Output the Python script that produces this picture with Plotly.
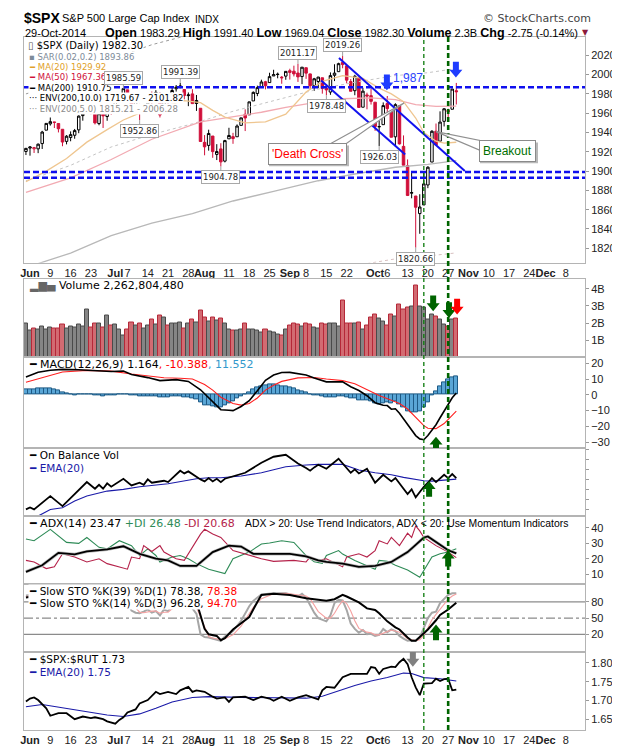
import plotly.graph_objects as go
from plotly.subplots import make_subplots

# trading-day index: -1 = 30 May 2014, 0 = 2 Jun 2014, 105 = 29 Oct 2014
day = list(range(-1, 106))

opens = [
    1920.33,
    1923.87, 1923.07, 1923.06, 1928.52, 1942.41,   # Jun 2-6
    1948.97, 1950.34, 1949.37, 1943.35, 1930.80,   # Jun 9-13
    1934.84, 1937.15, 1942.73, 1957.50, 1960.45,   # Jun 16-20
    1962.92, 1961.97, 1949.27, 1959.89, 1956.56,   # Jun 23-27
    1960.79, 1962.29, 1973.06, 1975.88,            # Jun 30 - Jul 3
    1984.22, 1976.39, 1965.10, 1966.67, 1965.76,   # Jul 7-11
    1969.86, 1977.36, 1976.35, 1979.75, 1961.54,   # Jul 14-18
    1976.93, 1975.65, 1985.32, 1988.07, 1984.60,   # Jul 21-25
    1978.25, 1980.03, 1973.21, 1965.14, 1929.80,   # Jul 28 - Aug 1
    1926.62, 1936.34, 1917.29, 1923.03, 1910.35,   # Aug 4-8
    1933.43, 1935.73, 1935.60, 1947.41, 1958.87,   # Aug 11-15
    1958.36, 1972.73, 1980.46, 1986.82, 1992.60,   # Aug 18-22
    1991.74, 1998.59, 2000.54, 1997.42, 1998.45,   # Aug 25-29
    2004.07, 2003.57, 2001.67, 1998.00,            # Sep 2-5
    2007.17, 2000.73, 1988.41, 1992.85, 1996.74,   # Sep 8-12
    1986.04, 1981.93, 1999.30, 2003.07, 2012.74,   # Sep 15-19
    2009.08, 1992.78, 1983.34, 1997.32, 1966.22,   # Sep 22-26
    1978.96, 1978.21, 1971.44, 1945.83, 1948.12,   # Sep 29 - Oct 3
    1970.01, 1962.36, 1935.55, 1967.68, 1925.63,   # Oct 6-10
    1905.65, 1877.11, 1874.18, 1855.95, 1864.91,   # Oct 13-17
    1885.62, 1909.38, 1941.29, 1931.02, 1951.59,   # Oct 20-24
    1962.97, 1964.14, 1983.29,                     # Oct 27-29
]
highs = [
    1924.03,
    1925.88, 1925.07, 1928.63, 1941.74, 1949.44,
    1955.55, 1950.86, 1949.37, 1943.35, 1937.30,
    1941.15, 1943.69, 1957.74, 1959.87, 1963.91,
    1963.74, 1968.17, 1960.83, 1959.89, 1961.47,
    1964.24, 1978.58, 1976.67, 1985.59,
    1984.22, 1976.39, 1974.15, 1969.84, 1968.67,
    1979.85, 1982.52, 1983.94, 1981.80, 1979.91,
    1976.93, 1986.24, 1989.23, 1991.39, 1984.60,
    1981.52, 1984.85, 1978.90, 1965.14, 1937.35,
    1942.92, 1936.34, 1927.91, 1928.89, 1932.38,
    1944.90, 1939.65, 1948.41, 1955.23, 1964.04,
    1971.99, 1982.57, 1988.57, 1994.76, 1993.54,
    2001.95, 2005.04, 2002.14, 1998.55, 2003.38,
    2006.12, 2009.28, 2011.17, 2007.71,
    2007.17, 2001.01, 1996.66, 1997.65, 1996.74,
    1987.18, 2002.28, 2010.74, 2012.34, 2019.26,
    2009.08, 1995.41, 1999.79, 1997.32, 1986.37,
    1981.28, 1985.17, 1971.44, 1952.32, 1971.19,
    1977.84, 1962.36, 1970.36, 1967.68, 1936.98,
    1912.09, 1898.71, 1874.18, 1876.01, 1898.16,
    1905.03, 1942.45, 1949.31, 1961.95, 1965.27,
    1964.64, 1985.05, 1991.40,
]
lows = [
    1916.64,
    1915.98, 1918.79, 1918.60, 1922.93, 1942.41,
    1947.16, 1944.64, 1940.08, 1925.78, 1927.69,
    1930.91, 1933.55, 1939.29, 1952.26, 1959.17,
    1958.89, 1948.34, 1947.49, 1944.69, 1952.18,
    1958.22, 1962.29, 1972.58, 1975.88,
    1974.88, 1959.46, 1965.10, 1952.86, 1959.63,
    1969.86, 1965.34, 1975.67, 1955.59, 1960.82,
    1965.77, 1975.65, 1982.44, 1985.79, 1974.37,
    1967.31, 1969.95, 1962.42, 1930.67, 1916.37,
    1921.20, 1913.77, 1911.45, 1904.78, 1909.01,
    1933.43, 1928.29, 1935.60, 1947.41, 1941.50,
    1958.36, 1972.73, 1977.68, 1986.82, 1984.76,
    1991.74, 1998.59, 1996.20, 1990.52, 1994.65,
    1994.85, 1998.14, 1992.44, 1990.10,
    1995.60, 1984.61, 1982.99, 1985.93, 1980.26,
    1978.48, 1979.06, 1993.29, 2003.07, 2006.59,
    1991.01, 1982.77, 1978.63, 1965.99, 1966.22,
    1964.04, 1968.96, 1941.72, 1926.03, 1948.12,
    1958.43, 1934.87, 1925.25, 1927.56, 1906.05,
    1874.14, 1871.79, 1820.66, 1835.02, 1864.91,
    1882.30, 1909.38, 1926.83, 1931.02, 1946.27,
    1951.37, 1964.14, 1969.04,
]
closes = [
    1923.57,
    1924.97, 1924.24, 1927.88, 1940.46, 1949.44,
    1951.27, 1950.79, 1943.89, 1930.11, 1936.16,
    1937.78, 1941.99, 1956.98, 1959.48, 1962.87,
    1962.61, 1949.98, 1959.53, 1957.22, 1960.96,
    1960.23, 1973.32, 1974.62, 1985.44,
    1977.65, 1963.71, 1972.83, 1964.68, 1967.57,
    1977.10, 1973.28, 1981.57, 1958.12, 1978.22,
    1973.63, 1983.53, 1987.01, 1987.98, 1978.34,
    1978.91, 1969.95, 1970.07, 1930.67, 1925.15,
    1938.99, 1920.21, 1920.24, 1909.57, 1931.59,
    1936.92, 1933.75, 1946.72, 1955.18, 1955.06,
    1971.74, 1981.60, 1986.51, 1992.37, 1988.40,
    1997.92, 2000.02, 2000.12, 1996.74, 2003.37,
    2002.28, 2000.72, 1997.65, 2007.71,
    2001.54, 1988.44, 1995.69, 1997.45, 1985.54,
    1984.13, 1998.98, 2001.57, 2011.36, 2010.40,
    1994.29, 1982.77, 1998.30, 1965.99, 1982.85,
    1977.80, 1972.29, 1946.16, 1946.17, 1967.90,
    1964.82, 1935.10, 1968.89, 1928.21, 1906.13,
    1874.74, 1877.70, 1862.49, 1862.76, 1886.76,
    1904.01, 1941.28, 1927.11, 1950.82, 1964.58,
    1961.63, 1985.05, 1982.30,
]
# volume, billions of shares
volume_b = [
    1.95,
    1.55, 1.70, 1.65, 1.80, 1.65,
    1.75, 1.70, 1.70, 1.92, 1.70,
    1.78, 1.72, 1.90, 1.80, 2.80,
    1.72, 1.98, 1.98, 1.76, 2.45,
    1.88, 1.90, 1.65, 1.25,
    1.65, 2.05, 1.85, 1.95, 1.70,
    1.85, 2.20, 1.90, 2.45, 2.35,
    1.85, 1.95, 2.00, 2.05, 1.70,
    1.95, 2.20, 2.05, 2.75, 2.35,
    2.10, 2.30, 2.15, 2.25, 2.00,
    1.65, 1.55, 1.55, 1.65, 1.98,
    1.65, 1.60, 1.55, 1.45, 1.65,
    1.50, 1.45, 1.35, 1.25, 1.60,
    1.85, 1.95, 1.90, 1.80,
    1.95, 1.92, 1.73, 1.67, 2.00,
    1.90, 1.95, 1.95, 1.80, 3.30,
    2.00, 2.00, 2.00, 2.05, 1.65,
    1.85, 2.35, 2.50, 2.25, 2.10,
    1.85, 2.50, 2.40, 3.08, 2.80,
    2.90, 2.95, 4.20, 2.95, 2.90,
    2.20, 2.50, 2.40, 2.20, 1.90,
    1.80, 2.20, 2.26,
]
macd_hist = [
    3.4,
    3.5, 3.6, 3.8, 4.1, 4.3,
    4.2, 3.7, 2.8, 1.6, 0.8,
    0.3, -0.1, 0.0, 0.3, 0.5,
    0.2, -0.6, -0.6, -0.7, -0.5,
    -0.4, -0.2, 0.1, 0.5,
    0.3, -0.3, -0.6, -1.0, -1.1,
    -0.9, -1.0, -1.2, -1.9, -1.5,
    -1.6, -1.2, -0.9, -0.8, -1.3,
    -1.6, -2.2, -2.7, -4.6, -6.4,
    -6.9, -7.6, -7.8, -7.9, -6.6,
    -5.3, -4.1, -2.4, -0.9, 0.3,
    1.8, 3.2, 4.6, 5.6, 6.2,
    6.6, 6.5, 6.2, 5.6, 5.2,
    4.6, 3.8, 2.8, 2.4,
    1.6, 0.4, -0.3, -0.5, -1.2,
    -1.8, -1.7, -1.4, -0.9, -0.8,
    -1.6, -2.5, -2.2, -3.6, -3.4,
    -3.6, -4.0, -5.5, -6.1, -5.1,
    -4.7, -5.6, -4.3, -6.2, -8.1,
    -10.4, -10.8, -11.3, -10.6, -8.0,
    -4.5, -0.5, 2.5, 5.5, 8.0,
    9.8, 11.3, 11.552,
]

# ---- indicator lines at selected days (day, value)
ma20_x = [-1, 4, 9, 14, 19, 23, 28, 33, 38, 42, 45, 48, 53, 58, 63, 68, 72, 77, 82, 86, 89, 92, 95, 97, 100, 102, 105]
ma20 = [1889, 1900, 1913, 1930, 1943, 1953, 1962, 1967, 1973, 1971, 1963, 1956, 1950, 1951, 1959, 1982, 1993, 1999,
        1996, 1986, 1980, 1972, 1955, 1940, 1931, 1929, 1929.92]
ma50_x = [-1, 10, 20, 30, 42, 50, 57, 63, 70, 77, 84, 90, 95, 100, 105]
ma50 = [1878, 1893, 1912, 1933, 1951, 1956, 1961, 1966, 1971, 1975, 1976, 1974, 1969, 1967, 1967.36]
ma200_x = [-1, 2, 10, 20, 30, 40, 50, 60, 71, 80, 90, 98, 105]
ma200 = [1800, 1804, 1815, 1833, 1846, 1856, 1869, 1879, 1890, 1897, 1904, 1907, 1910.75]
env5_up = [1890, 1894, 1906, 1925, 1938, 1949, 1962, 1973, 1985, 1992, 1999, 2002, 2006.28]
env10_up = [1980, 1984, 1997, 2016, 2031, 2042, 2056, 2067, 2079, 2087, 2094, 2098, 2101.82]
env5_lo = [1710, 1714, 1724, 1741, 1754, 1763, 1776, 1785, 1796, 1802, 1809, 1812, 1815.21]

macd_x = [-1, 2, 5, 8, 12, 16, 20, 23, 25, 29, 32, 36, 39, 42, 44, 46, 47, 49, 50, 52, 54, 56, 58, 60, 62, 64, 66,
          68, 70, 73, 75, 77, 79, 81, 83, 85, 87, 88, 89, 90, 91, 92, 93, 94, 95, 96, 97, 98, 99, 100, 101, 102,
          103, 104, 105]
macd = [11.3, 14.3, 15.6, 16.1, 15.9, 15.2, 14.8, 15.0, 12.9, 10.9, 9.0, 9.6, 8.5, 3.2, -1.9, -6.8, -9.4, -9.8,
        -10.0, -7.4, -3.7, 2.6, 9.2, 12.5, 14.1, 14.2, 13.5, 12.6, 10.7, 8.2, 8.2, 8.2, 5.1, 2.7, -0.6, -5.0,
        -6.6, -6.8, -9.1, -8.8, -11.7, -15.3, -19.4, -22.5, -25.8, -27.9, -28.4, -25.7, -22.2, -18.9, -14.5,
        -10.2, -6.2, -1.9, 1.164]
signal_x = [-1, 3, 8, 14, 20, 25, 29, 33, 37, 40, 43, 45, 47, 50, 52, 54, 56, 58, 60, 62, 66, 70, 73, 77, 80, 83,
            86, 89, 91, 93, 95, 97, 98, 100, 102, 104, 105]
signal = [7.9, 10.9, 14.4, 15.5, 15.0, 13.2, 11.8, 10.8, 10.5, 10.0, 6.5, 3.0, -1.5, -5.5, -6.5, -5.5, -2.0, 3.0,
          6.0, 8.5, 10.7, 11.0, 10.0, 9.0, 7.0, 3.0, -0.5, -3.5, -5.5, -9.0, -14.5, -19.5, -21.2, -21.4, -18.2,
          -13.2, -10.388]

# on balance volume (relative units, no scale printed on the chart)
obv_x = [-1, 0, 1, 5, 8, 14, 16, 17, 18, 19, 20, 23, 25, 27, 28, 29, 30, 33, 34, 37, 38, 39, 42, 43, 44, 45, 46,
         47, 48, 51, 53, 57, 60, 63, 66, 68, 69, 70, 71, 73, 76, 79, 80, 81, 83, 85, 87, 89, 90, 93, 94, 95, 96,
         97, 98, 99, 100, 101, 102, 103, 104, 105]
obv = [10, 13, 10, 30, 15, 51, 41, 47, 41, 49, 44, 56, 46, 50, 47, 55, 50, 53, 51, 68, 64, 67, 55, 52, 57, 52, 56,
       51, 56, 62, 65, 80, 89, 92, 79, 72, 68, 73, 77, 71, 86, 65, 70, 64, 71, 50, 62, 52, 57, 33, 40, 28, 36, 44,
       50, 57, 51, 57, 62, 57, 63, 57]
obv_ema_x = [-1, 2, 5, 8, 11, 14, 19, 23, 27, 34, 41, 44, 47, 52, 57, 63, 68, 71, 77, 81, 85, 89, 92, 95, 97, 99,
             101, 103, 105]
obv_ema = [-4, 0, 10, 12.5, 22.5, 30, 37.5, 40, 44, 48.5, 56, 57.5, 57.5, 60, 65, 74, 76.5, 77.5, 77.5, 69, 65,
           62, 58, 55, 53, 52.5, 53.5, 54.5, 55.5]

adx_x = [-1, 1, 3, 7, 11, 14, 19, 23, 27, 31, 34, 37, 41, 45, 49, 52, 55, 60, 64, 68, 71, 73, 77, 81, 85, 89, 93,
         95, 97, 98, 100, 103, 105]
adx = [11.5, 13.6, 15.7, 23.8, 22.8, 24.7, 26.0, 28.1, 23.2, 20.0, 18.9, 15.3, 15.3, 24.3, 28.5, 27.9, 23.2, 23.2,
       23.2, 21.5, 18.9, 17.9, 16.8, 14.7, 15.3, 17.9, 24.3, 29.0, 33.8, 34.5, 31.0, 25.5, 23.47]
pdi_x = [-1, 1, 5, 9, 12, 14, 17, 19, 22, 25, 27, 29, 31, 32, 35, 37, 39, 41, 44, 46, 48, 50, 54, 57, 59, 62, 65,
         68, 70, 72, 73, 76, 77, 80, 82, 85, 86, 88, 90, 93, 96, 97, 99, 101, 103, 105]
pdi = [32.8, 31.7, 39.1, 30.6, 30.0, 33.8, 27.4, 26.4, 31.7, 28.5, 22.1, 26.4, 22.1, 17.9, 21.1, 22.1, 20.0, 16.8,
       13.2, 11.9, 10.4, 20.0, 24.3, 29.6, 30.2, 31.7, 30.6, 22.0, 18.0, 17.0, 22.1, 25.3, 23.0, 18.9, 16.8, 13.2,
       18.9, 18.3, 15.7, 12.6, 7.9, 12.6, 21.1, 23.2, 24.3, 26.48]
mdi_x = [-1, 1, 4, 6, 8, 11, 14, 17, 19, 22, 24, 25, 27, 28, 30, 32, 33, 36, 38, 42, 43, 45, 47, 50, 54, 57, 60,
         65, 68, 69, 71, 73, 77, 78, 81, 83, 85, 86, 88, 89, 91, 92, 93, 94, 95, 96, 97, 100, 103, 105]
mdi = [18.9, 17.9, 13.6, 14.7, 23.2, 21.1, 17.9, 20.0, 16.8, 14.7, 13.2, 21.1, 20.0, 28.5, 24.7, 28.5, 24.3, 20.0,
       18.9, 36.0, 39.1, 36.0, 33.8, 25.3, 22.1, 20.0, 18.3, 18.9, 17.9, 21.1, 18.9, 20.0, 14.7, 21.1, 23.2, 21.1,
       25.3, 31.7, 29.6, 33.8, 28.5, 32.8, 36.6, 33.8, 41.3, 38.1, 33.8, 28.5, 24.3, 20.68]

k39_x = [-1, 5, 10, 15, 20, 24, 28, 32, 37, 39, 41, 42, 43, 44, 45, 46, 47, 48, 50, 52, 54, 56, 57, 60, 64, 68, 71,
         73, 75, 77, 78, 80, 81, 83, 85, 86, 88, 90, 91, 93, 94, 95, 96, 98, 100, 101, 103, 105]
k39 = [88, 95, 85, 92, 90, 94, 88, 86, 95, 90, 80, 55, 30, 20, 18, 17, 9, 13, 29, 40, 52, 80, 92.7, 95, 93, 87, 84,
       82, 85, 93, 90, 82, 79, 68, 65, 59, 44, 33, 29, 14, 8, 8, 15, 29, 46, 56, 66, 78.38]
k14_x = [-1, 3, 6, 8, 9, 10, 11, 12, 14, 17, 20, 23, 25, 26, 27, 28, 29, 30, 31, 32, 33, 34, 35, 36, 37, 39, 41, 42,
         43, 44, 45, 47, 48, 50, 52, 54, 55, 57, 60, 63, 66, 67, 68, 69, 70, 71, 73, 74, 75, 76, 77, 78, 79, 80, 81,
         82, 83, 84, 85, 86, 87, 88, 89, 90, 91, 92, 93, 94, 95, 96, 97, 98, 99, 100, 101, 102, 103, 104, 105]
k14 = [92, 94, 90, 74, 68, 67, 71, 88, 96, 88, 90, 97, 64, 60, 59, 62, 66, 60, 63, 55, 66, 63, 72, 80, 88, 78, 58,
       20, 15, 14, 12, 8, 16, 26, 45, 72, 82, 94, 96, 96, 90, 95, 88, 75, 60, 50, 44, 55, 78, 84, 83, 65, 40, 30, 23,
       28, 20, 21, 17, 19, 30, 24, 29, 26, 17, 12, 8, 9, 8, 14, 32, 50, 60, 62, 78, 85, 93, 96, 96.28]
d3 = [90, 93, 92, 82, 74, 70, 69, 75, 90, 90, 90, 94, 78, 68, 61, 60, 62, 63, 63, 59, 61, 61, 67, 72, 80, 83, 70,
      52, 31, 16, 13, 10, 12, 19, 35, 58, 70, 86, 95, 96, 93, 93, 91, 86, 74, 62, 50, 50, 59, 72, 82, 77, 63, 45, 31,
      27, 24, 23, 19, 19, 22, 24, 28, 26, 24, 18, 12, 10, 8, 10, 18, 32, 47, 57, 67, 75, 85, 91, 94.70]

rut_x = [-1, 0, 1, 2, 4, 5, 7, 9, 11, 13, 15, 16, 18, 19, 21, 22, 23, 24, 26, 27, 29, 31, 32, 34, 36, 37, 39, 40,
         41, 43, 45, 46, 48, 49, 50, 53, 55, 57, 59, 60, 62, 64, 66, 68, 69, 71, 72, 73, 75, 77, 79, 82, 83, 84, 85,
         86, 87, 89, 90, 91, 92, 93, 94, 95, 96, 97, 99, 100, 101, 102, 103, 104, 105]
rut = [1.697, 1.705, 1.708, 1.701, 1.679, 1.659, 1.666, 1.666, 1.650, 1.657, 1.653, 1.655, 1.650, 1.644, 1.638,
       1.648, 1.655, 1.668, 1.676, 1.692, 1.701, 1.723, 1.717, 1.723, 1.717, 1.727, 1.736, 1.723, 1.727, 1.723,
       1.710, 1.705, 1.708, 1.696, 1.708, 1.710, 1.701, 1.710, 1.705, 1.699, 1.710, 1.699, 1.708, 1.714, 1.710,
       1.703, 1.727, 1.736, 1.734, 1.762, 1.771, 1.771, 1.771, 1.789, 1.787, 1.771, 1.784, 1.790, 1.789, 1.802,
       1.811, 1.797, 1.762, 1.735, 1.714, 1.745, 1.746, 1.758, 1.752, 1.757, 1.758, 1.727, 1.729]
rut_ema_x = [-1, 3, 11, 19, 23, 27, 31, 35, 40, 44, 52, 60, 68, 72, 76, 80, 84, 88, 92, 94, 97, 101, 105]
rut_ema = [1.683, 1.689, 1.675, 1.661, 1.657, 1.664, 1.679, 1.696, 1.708, 1.710, 1.708, 1.708, 1.706, 1.711, 1.726,
           1.740, 1.752, 1.761, 1.773, 1.772, 1.761, 1.758, 1.752]

# ---- x axis labels
tick_days = [0, 5, 10, 15, 21, 24, 29, 34, 39, 43, 49, 54, 59, 64, 68, 73, 78, 85, 88, 93, 98, 103, 108, 113, 118,
             123, 127, 132]
tick_text = ['<b>Jun</b>', '9', '16', '23', '<b>Jul</b>', '7', '14', '21', '28', '<b>Aug</b>', '11', '18', '25',
             '<b>Sep</b>', '8', '15', '22', '<b>Oct</b>', '6', '13', '20', '27', '<b>Nov</b>', '10', '17', '24',
             '<b>Dec</b>', '8']

# ---- chart annotations (analyst drawings)
peak_labels = [(23, 1985.59, 'hi'), (37, 1991.39, 'hi'), (27, 1952.86, 'lo'), (47, 1904.78, 'lo'),
               (66, 2011.17, 'hi'), (77, 2019.26, 'hi'), (73, 1978.48, 'lo'), (86, 1926.03, 'lo'),
               (95, 1820.66, 'lo')]
levels = [1987, 1899, 1893]
trend_upper = [(76.1, 2017.3), (107.1, 1900.0)]
trend_lower = [(71.7, 1993.9), (92.4, 1917.3)]
signal_lines = [97.0, 103.0]
arrows = [(1, 87.9, 1983.7, 'down', '#1f3cff'), (1, 104.9, 1997.0, 'down', '#1f3cff'),
          (2, 99.3, 2.69, 'down', '#006400'), (2, 103.2, 2.30, 'down', '#006400'),
          (2, 105.2, 2.50, 'down', '#ff0000'), (3, 100.0, -26.5, 'up', '#006400'),
          (4, 98.3, 52.5, 'up', '#006400'), (5, 103.0, 25.2, 'up', '#006400'),
          (6, 100.0, 38.0, 'up', '#006400'), (7, 94.3, 1.79, 'down', '#808080')]

# ---- page geometry
W, H = 620, 750
ML, MR, MT, MB = 16, 43, 29, 18
PW, PH = W - ML - MR, H - MT - MB
PANELS = [(29, 258), (274, 354), (354, 446), (446, 515), (515, 584), (584, 653), (653, 732)]
Y_RANGES = [(1805, 2039), (0, 4.6), (-33.7, 23.7), (0, 102), (3.5, 47.7), (-13, 113), (1.621, 1.829)]
X_RANGE = [-1.48, 136.7]
XPX = PW / (X_RANGE[1] - X_RANGE[0])
LEG = 'DejaVu Sans'
AXF = 'Liberation Sans'


def py2paper(py):
    return (H - MB - py) / PH


def px2paper(px):
    return (px - ML) / PW


def ppu(row):
    t, b = PANELS[row - 1]
    lo, hi = Y_RANGES[row - 1]
    return (b - t) / (hi - lo)


def xd(px):
    return X_RANGE[0] + (px - ML) / XPX


def yd(py, row=1):
    return Y_RANGES[row - 1][1] - (py - PANELS[row - 1][0]) / ppu(row)


def refs(row):
    return ('x', 'y') if row == 1 else (f'x{row}', f'y{row}')


fig = make_subplots(rows=7, cols=1, shared_xaxes=True, vertical_spacing=0)


def line(x, y, row, color, width=1.0, dash=None):
    fig.add_trace(go.Scatter(x=x, y=y, mode='lines', hoverinfo='skip',
                             line=dict(color=color, width=width, dash=dash)), row=row, col=1)


# price overlays first so that the candles sit on top
line(ma200_x, env10_up, 1, '#9a9a9a', 1, 'dot')
line(ma200_x, env5_up, 1, '#c4c4c4', 1, 'dot')
line(ma200_x, env5_lo, 1, '#d8c0c0', 1, 'dot')
line(ma200_x, ma200, 1, '#b8b8b8', 1.3)
line(ma50_x, ma50, 1, '#f2aab2', 1.3)
line(ma20_x, ma20, 1, '#efc690', 1.3)

# price candles: outline black when close >= previous close, red otherwise; hollow when close > open
up = [True] + [closes[k] >= closes[k - 1] for k in range(1, len(closes))]
for want, col in [(True, '#000000'), (False, '#d0103a')]:
    idx = [k for k in range(len(day)) if up[k] == want]
    fig.add_trace(go.Candlestick(
        x=[day[k] for k in idx], open=[opens[k] for k in idx], high=[highs[k] for k in idx],
        low=[lows[k] for k in idx], close=[closes[k] for k in idx],
        increasing=dict(line=dict(color=col, width=1), fillcolor='white'),
        decreasing=dict(line=dict(color=col, width=1), fillcolor=col),
        whiskerwidth=0, hoverinfo='skip'), row=1, col=1)

# volume
fig.add_trace(go.Bar(x=day, y=volume_b, width=1.0, hoverinfo='skip',
                     marker=dict(color=['#858585' if u else '#d26b72' for u in up],
                                 line=dict(color=['#4a4a4a' if u else '#b52838' for u in up], width=1))),
              row=2, col=1)

# MACD
fig.add_trace(go.Bar(x=day, y=macd_hist, width=1.0, hoverinfo='skip',
                     marker=dict(color='#5aa6d6', line=dict(color='#1d5a86', width=1))), row=3, col=1)
line(signal_x, signal, 3, '#ff2020', 1.1)
line(macd_x, macd, 3, '#000000', 1.6)

# OBV
line(obv_ema_x, obv_ema, 4, '#1a1aa8', 1.1)
line(obv_x, obv, 4, '#000000', 1.8)

# ADX
line(pdi_x, pdi, 5, '#2e8b57', 1.1)
line(mdi_x, mdi, 5, '#b5224a', 1.1)
line(adx_x, adx, 5, '#bdbdbd', 3.2)
line(adx_x, adx, 5, '#000000', 1.8)

# Slow stochastics
line(k14_x, k14, 6, '#a6a6a6', 2.0)
line(k14_x, d3, 6, '#f5a0a0', 1.1)
line(k39_x, k39, 6, '#000000', 2.0)

# SPX:RUT
line(rut_ema_x, rut_ema, 7, '#1a1aa8', 1.1)
line(rut_x, rut, 7, '#000000', 1.8)

# ---- axes
frame = dict(showline=True, linecolor='#b4b4b4', linewidth=1, mirror=True, showgrid=False, zeroline=False)
for r in range(1, 8):
    fig.update_xaxes(frame, range=X_RANGE, tickvals=tick_days, ticktext=tick_text, ticks='', tickangle=0,
                     tickfont=dict(family=AXF, size=11, color='#222'), rangeslider_visible=False,
                     showticklabels=(r in (1, 7)), row=r, col=1)
    fig.update_yaxes(frame, side='right', range=list(Y_RANGES[r - 1]), ticks='outside', ticklen=3,
                     tickcolor='#999', tickfont=dict(family=AXF, size=11, color='#222'), row=r, col=1)

fig.update_yaxes(tickvals=[1820, 1840, 1860, 1880, 1900, 1920, 1940, 1960, 1980, 2000, 2020], row=1, col=1)
fig.update_yaxes(tickvals=[1, 2, 3, 4], ticktext=['1B', '2B', '3B', '4B'], row=2, col=1)
fig.update_yaxes(tickvals=[-30, -20, -10, 0, 10, 20], row=3, col=1)
fig.update_yaxes(tickvals=[10, 25, 40, 55, 70, 85, 100], showticklabels=False, row=4, col=1)
fig.update_yaxes(tickvals=[10, 20, 30, 40], row=5, col=1)
fig.update_yaxes(tickvals=[20, 50, 80], row=6, col=1)
fig.update_yaxes(tickvals=[1.65, 1.70, 1.75, 1.80], tickformat='.2f', row=7, col=1)

lay = {}
for r in range(1, 8):
    t, b = PANELS[r - 1]
    lay['yaxis' if r == 1 else f'yaxis{r}'] = dict(domain=[py2paper(b), py2paper(t)])
fig.update_layout(**lay)

# ---- shapes
shapes = []
for lv in levels:
    shapes.append(dict(type='line', xref='x', yref='y', x0=X_RANGE[0], x1=X_RANGE[1], y0=lv, y1=lv,
                       line=dict(color='#1010ee', width=2.5, dash='6px,3px'), layer='above'))
for seg in (trend_upper, trend_lower):
    shapes.append(dict(type='line', xref='x', yref='y', x0=seg[0][0], y0=seg[0][1], x1=seg[1][0], y1=seg[1][1],
                       line=dict(color='#1212ee', width=2), layer='above'))
for k, xv in enumerate(signal_lines):
    shapes.append(dict(type='line', xref='x', yref='paper', x0=xv, x1=xv, y0=0, y1=1, layer='above',
                       line=dict(color='#0a7a0a' if k == 0 else '#006400', width=1.3 if k == 0 else 2.6,
                                 dash='4px,3px' if k == 0 else '5px,3px')))
for yv, dash in [(80, 'solid'), (50, 'dashdot'), (20, 'solid')]:
    shapes.append(dict(type='line', xref='paper', yref='y6', x0=0, x1=1, y0=yv, y1=yv, layer='below',
                       line=dict(color='#6e6e6e', width=1, dash=dash)))

# callout pointers (pixel positions)
for pts in ([(396, 96), (321, 138), (337, 138)], [(428, 125), (472, 134), (472, 144)]):
    path = 'M' + 'L'.join(f'{xd(px):.3f},{yd(py):.2f}' for px, py in pts) + 'Z'
    shapes.append(dict(type='path', xref='x', yref='y', path=path, fillcolor='white',
                       line=dict(color='#909090', width=1.2), layer='above'))
# callout box shadows
for x0, y0, x1, y1 in [(261, 139, 341, 160), (472, 136, 530, 157)]:
    shapes.append(dict(type='rect', xref='x', yref='y', x0=xd(x0), x1=xd(x1), y0=yd(y1), y1=yd(y0),
                       fillcolor='#b8b8b8', line=dict(width=0), layer='above'))

for row, xc, tip, way, col in arrows:
    k = ppu(row)
    s = 1 if way == 'down' else -1
    pts = [(0, 0), (-6.5, 8), (-3, 8), (-3, 16), (3, 16), (3, 8), (6.5, 8)]
    path = 'M' + 'L'.join(f'{xc + dx / XPX:.3f},{tip + s * dy / k:.4f}' for dx, dy in pts) + 'Z'
    xr, yr = refs(row)
    shapes.append(dict(type='path', xref=xr, yref=yr, path=path, fillcolor=col, line=dict(width=0),
                       layer='above'))
fig.update_layout(shapes=shapes)


# ---- texts
def note(px, py, text, size=11, color='#000', family=LEG, xanchor='left', bg=None):
    kw = dict(bgcolor=bg) if bg else {}
    fig.add_annotation(x=px2paper(px), y=py2paper(py), xref='paper', yref='paper', text=text, showarrow=False,
                       xanchor=xanchor, yanchor='middle', font=dict(family=family, size=size, color=color),
                       borderpad=0, **kw)


def bold(word):
    return f'<span style="font-size:12.5px"><b>{word}</b></span>'


note(15, 10, '<b>$SPX</b>', 14, '#000', AXF)
note(53, 10, 'S&P 500 Large Cap Index', 11, '#000', AXF)
note(186, 11, 'INDX', 10, '#000', AXF)
note(584, 10, '© StockCharts.com', 11, '#444', LEG, 'right')
note(16, 24.5, '29-Oct-2014', 11, '#000', AXF)
note(571, 24.5, f'{bold("Open")} 1983.29 {bold("High")} 1991.40 {bold("Low")} 1969.04 {bold("Close")} 1982.30 '
                f'{bold("Volume")} 2.3B {bold("Chg")} -2.75 (-0.14%)', 11, '#000', AXF, 'right')
note(573, 24.5, '▼', 8, '#8b1a3a', LEG)

W_ = 'white'
MS = 8.5
note(19, 38, '<span style="color:#555">▯</span> $SPX (Daily) 1982.30', 10, bg=W_)
note(20, 49, '▪ SAR(0.02,0.2) 1893.86', MS, color='#7d8b99', bg=W_)
note(20, 59.5, '━ MA(20) 1929.92', MS, color='#df9f2a', bg=W_)
note(20, 70, '━ MA(50) 1967.36', MS, color='#d0103a', bg=W_)
note(20, 80.5, '━ MA(200) 1910.75', MS, bg=W_)
note(20, 91, '··· ENV(200,10.0) 1719.67 - 2101.82', MS, bg=W_)
note(20, 102, '··· ENV(200,5.0) 1815.21 - 2006.28', MS, color='#8c8c8c', bg=W_)

note(20, 281, '<span style="color:#666">▂▆▄</span> Volume 2,262,804,480')
note(20, 361, '━ MACD(12,26,9) 1.164<span style="color:#ff0000">, -10.388</span>'
              '<span style="color:#3399cc">, 11.552</span>')
note(20, 453, '━ On Balance Vol', 10.5)
note(20, 466, '━ EMA(20)', 10.5, color='#1a1aa8')
note(20, 523, '━ ADX(14) 23.47 <span style="color:#2e8b57">+DI 26.48</span> '
              '<span style="color:#b5224a">-DI 20.68</span>')
note(236, 523, 'ADX &gt; 20: Use Trend Indicators, ADX &lt; 20: Use Momentum Indicators', 10.4, '#000', AXF)
note(20, 591, '━ Slow STO %K(39) %D(1) 78.38, <span style="color:#ff0000">78.38</span>', 10.5, bg=W_)
note(20, 603, '━ Slow STO %K(14) %D(3) 96.28, <span style="color:#ff0000">94.70</span>', 10.5, bg=W_)
note(20, 660, '━ $SPX:$RUT 1.73', 10.5)
note(20, 673, '━ EMA(20) 1.75', 10.5, color='#1a1aa8')

# high / low value tags
for dv, val, kind in peak_labels:
    fig.add_annotation(x=dv, y=val, xref='x', yref='y', text=f'{val:.2f}', showarrow=True, arrowhead=0,
                       arrowwidth=1, arrowcolor='#a0a0a0', ax=0, ay=-11 if kind == 'hi' else 11,
                       bgcolor='white', bordercolor='#a8a8a8', borderwidth=1, borderpad=1,
                       font=dict(family=LEG, size=8.5, color='#222'))

fig.add_annotation(x=xd(400), y=yd(71), xref='x', yref='y', text='1,987', showarrow=False,
                   font=dict(family=AXF, size=12, color='#2a44ff'))
fig.add_annotation(x=xd(299), y=yd(148), xref='x', yref='y', text="'Death Cross'", showarrow=False,
                   bgcolor='white', bordercolor='#8a8a8a', borderwidth=1, borderpad=3,
                   font=dict(family=AXF, size=12, color='#ff0000'))
fig.add_annotation(x=xd(499), y=yd(145), xref='x', yref='y', text='Breakout', showarrow=False,
                   bgcolor='white', bordercolor='#8a8a8a', borderwidth=1, borderpad=3,
                   font=dict(family=AXF, size=12, color='#007000'))

fig.update_layout(width=W, height=H, margin=dict(l=ML, r=MR, t=MT, b=MB), showlegend=False,
                  plot_bgcolor='white', paper_bgcolor='white', bargap=0, boxgap=0.12)

fig.write_html("out.html")
